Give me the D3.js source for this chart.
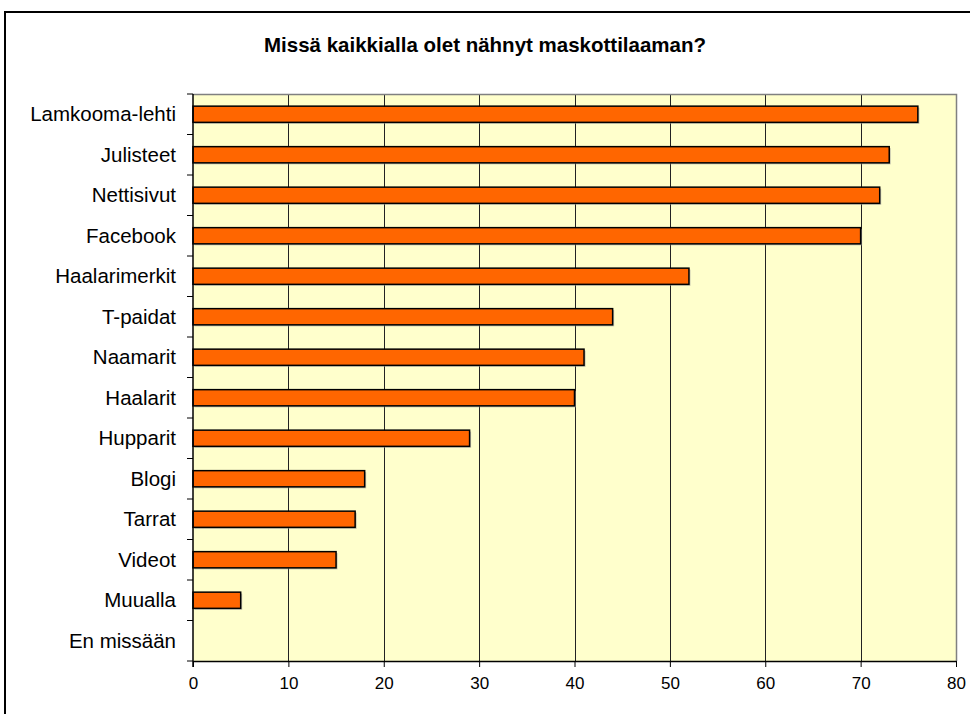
<!DOCTYPE html>
<html>
<head>
<meta charset="utf-8">
<script src="https://cdn.jsdelivr.net/npm/d3@7"></script>
<style>
  html, body { margin: 0; padding: 0; background: #ffffff; }
  svg { display: block; }
  text { font-family: "Liberation Sans", Arial, sans-serif; fill: #000; }
</style>
</head>
<body>
<script>
const categories = ["Lamkooma-lehti", "Julisteet", "Nettisivut", "Facebook", "Haalarimerkit",
  "T-paidat", "Naamarit", "Haalarit", "Hupparit", "Blogi", "Tarrat", "Videot", "Muualla", "En missään"];
const values = [76, 73, 72, 70, 52, 44, 41, 40, 29, 18, 17, 15, 5, 0];
const xTicks = [0, 10, 20, 30, 40, 50, 60, 70, 80];
const title = "Missä kaikkialla olet nähnyt maskottilaaman?";

const W = 970, H = 714;
const plot = { left: 193, right: 956, top: 94, bottom: 661 };

const svg = d3.select("body").append("svg").attr("width", W).attr("height", H);

// outer chart border (top and left visible)
svg.append("line").attr("x1", 5).attr("x2", W).attr("y1", 12).attr("y2", 12)
  .attr("stroke", "#000").attr("stroke-width", 2);
svg.append("line").attr("x1", 5).attr("x2", 5).attr("y1", 11).attr("y2", H)
  .attr("stroke", "#000").attr("stroke-width", 2);

// title
svg.append("text").attr("x", 485).attr("y", 52).attr("text-anchor", "middle")
  .style("font-weight", "bold").style("font-size", "20.5px").text(title);

const x = d3.scaleLinear().domain([0, 80]).range([plot.left, plot.right]);
const y = d3.scaleBand().domain(categories).range([plot.top, plot.bottom])
  .paddingInner(0.6).paddingOuter(0.3);

// plot background
svg.append("rect").attr("x", plot.left).attr("y", plot.top)
  .attr("width", plot.right - plot.left).attr("height", plot.bottom - plot.top)
  .attr("fill", "#FFFFCC");

// gridlines
svg.append("g").selectAll("line").data(xTicks.slice(1, -1)).join("line")
  .attr("x1", d => Math.round(x(d)) + 0.5).attr("x2", d => Math.round(x(d)) + 0.5)
  .attr("y1", plot.top).attr("y2", plot.bottom)
  .attr("stroke", "#222").attr("stroke-width", 1);

// plot border top & right (gray)
svg.append("path")
  .attr("d", `M${plot.left},${plot.top + 0.5}H${plot.right + 0.5}V${plot.bottom}`)
  .attr("fill", "none").attr("stroke", "#808080").attr("stroke-width", 1.5);

// bar shadows
svg.append("g").selectAll("rect").data(values).join("rect")
  .attr("x", plot.left + 1.5)
  .attr("y", (d, i) => y(categories[i]) + 1.5)
  .attr("width", d => Math.max(0, x(d) - x(0)))
  .attr("height", y.bandwidth())
  .attr("fill", d => d > 0 ? "#999" : "none")
  .attr("opacity", 0.6);

// bars
svg.append("g").selectAll("rect").data(values).join("rect")
  .attr("x", x(0))
  .attr("y", (d, i) => y(categories[i]))
  .attr("width", d => Math.max(0, x(d) - x(0)))
  .attr("height", y.bandwidth())
  .attr("fill", d => d > 0 ? "#FF6600" : "none")
  .attr("stroke", d => d > 0 ? "#000" : "none")
  .attr("stroke-width", 1.5);

// x axis
const xAxis = svg.append("g").attr("transform", `translate(0,${plot.bottom})`)
  .call(d3.axisBottom(x).tickValues(xTicks).tickSize(6).tickPadding(10).tickSizeOuter(0));
xAxis.select(".domain").attr("stroke", "#000").attr("stroke-width", 1.5);
xAxis.selectAll(".tick line").attr("stroke", "#000");
xAxis.selectAll("text").style("font-size", "17px");

// y axis with ticks at band boundaries
const yAxisG = svg.append("g").attr("transform", `translate(${plot.left},0)`);
yAxisG.append("line").attr("x1", 0).attr("x2", 0).attr("y1", plot.top).attr("y2", plot.bottom + 6)
  .attr("stroke", "#000").attr("stroke-width", 1.5);
const step = y.step();
const boundaries = d3.range(categories.length + 1).map(i => plot.top + i * step);
yAxisG.selectAll("line.tk").data(boundaries).join("line").attr("class", "tk")
  .attr("x1", -6).attr("x2", 0).attr("y1", d => d).attr("y2", d => d)
  .attr("stroke", "#000").attr("stroke-width", 1);
yAxisG.selectAll("text").data(categories).join("text")
  .attr("x", -17).attr("y", d => y(d) + y.bandwidth() / 2)
  .attr("dy", "0.35em").attr("text-anchor", "end")
  .style("font-size", "20.5px").text(d => d);
</script>
</body>
</html>
